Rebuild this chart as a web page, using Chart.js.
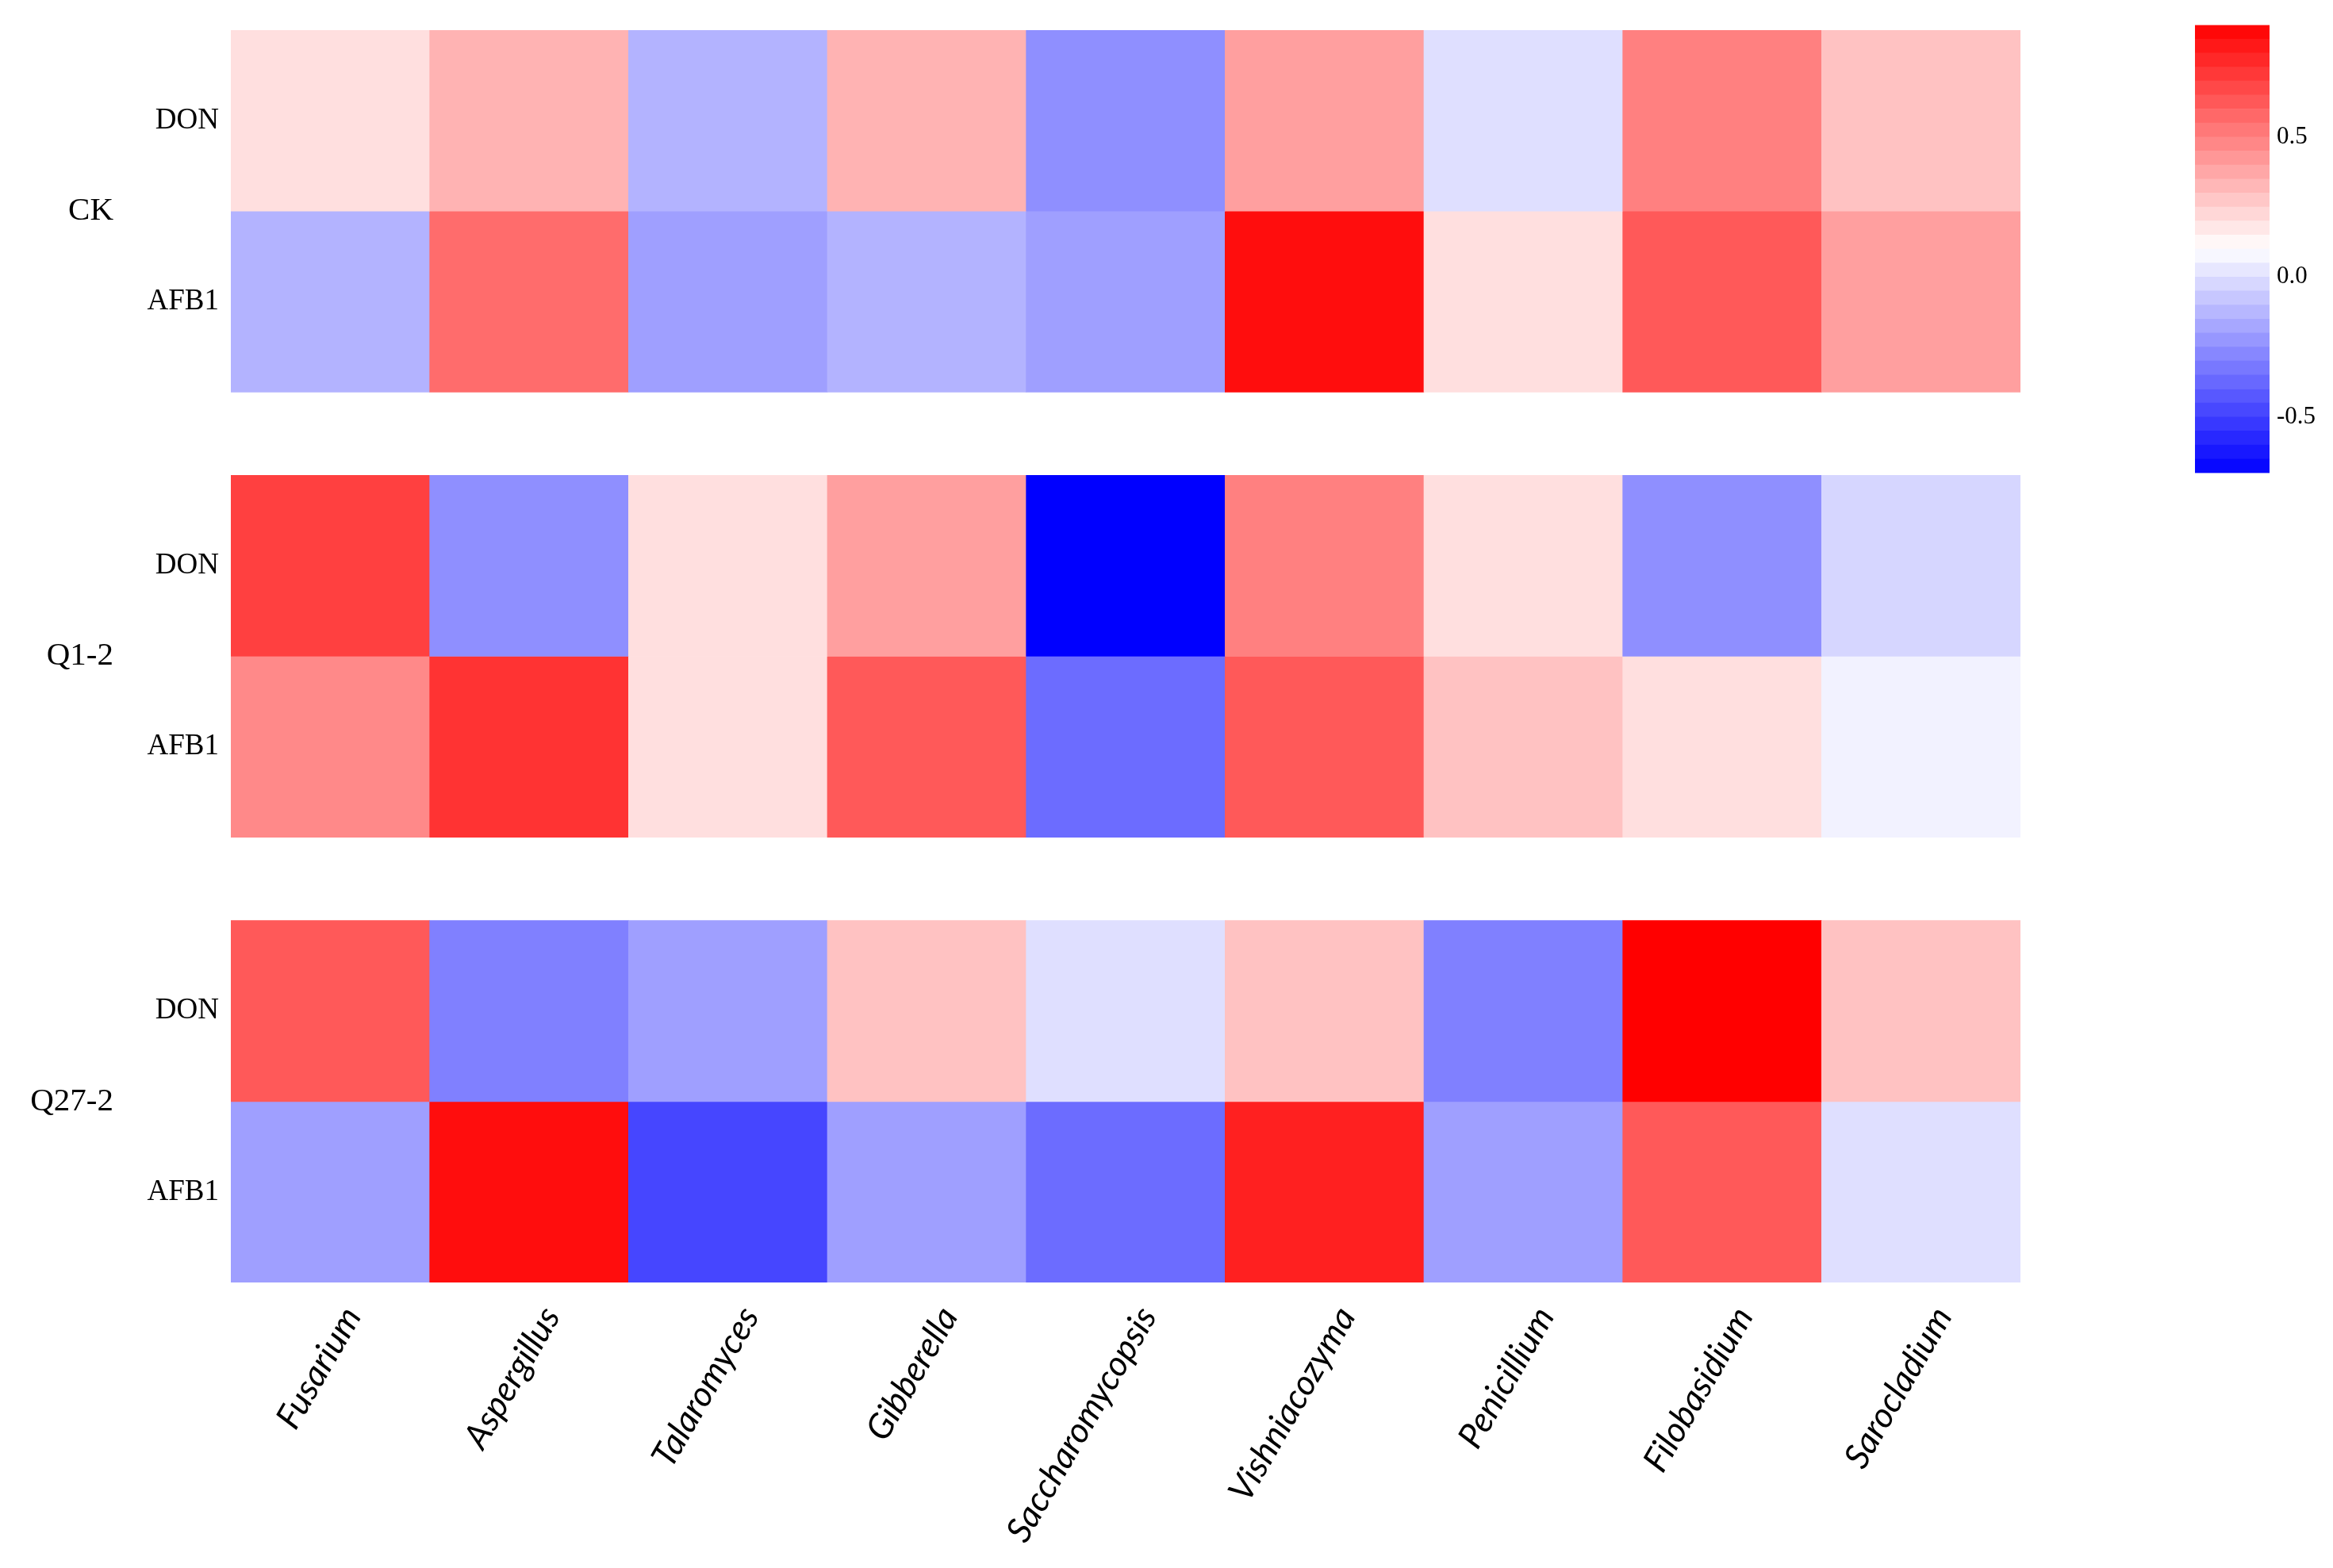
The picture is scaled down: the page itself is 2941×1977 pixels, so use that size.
<!DOCTYPE html>
<html>
<head>
<meta charset="utf-8">
<script src="https://cdn.jsdelivr.net/npm/chart.js@4.4.1/dist/chart.umd.min.js"></script>
<style>
  html, body { margin: 0; padding: 0; background: #fff; }
  #wrap { position: relative; width: 2941px; height: 1977px; }
  #heat { position: absolute; left: 0; top: 0; width: 2941px; height: 1977px; }
  /* box is taller than the key itself: the scale keeps a margin above and below */
  #legend { position: absolute; left: 2767px; top: 4px; width: 174px; height: 620px; }
</style>
</head>
<body>
<div id="wrap">
  <div id="heat"><canvas id="heatCanvas"></canvas></div>
  <div id="legend"><canvas id="legendCanvas"></canvas></div>
</div>
<script>
const genera = ["Fusarium", "Aspergillus", "Talaromyces", "Gibberella", "Saccharomycopsis", "Vishniacozyma", "Penicillium", "Filobasidium", "Sarocladium"];
const groups = ["CK", "Q1-2", "Q27-2"];
const toxins = ["DON", "AFB1"];

// correlation values, one array per group/toxin row
const ckDON    = [0.20, 0.34, -0.14, 0.34, -0.25, 0.40, 0.00, 0.50, 0.29];
const ckAFB1   = [-0.14, 0.56, -0.20, -0.14, -0.20, 0.86, 0.20, 0.62, 0.40];
const q12DON   = [0.70, -0.25, 0.20, 0.40, -0.70, 0.50, 0.20, -0.25, -0.03];
const q12AFB1  = [0.47, 0.74, 0.20, 0.62, -0.36, 0.62, 0.29, 0.20, 0.06];
const q272DON  = [0.62, -0.30, -0.20, 0.29, 0.00, 0.29, -0.30, 0.90, 0.29];
const q272AFB1 = [-0.20, 0.86, -0.48, -0.20, -0.36, 0.80, -0.20, 0.62, 0.00];

const rows = [[ckDON, ckAFB1], [q12DON, q12AFB1], [q272DON, q272AFB1]];

const colorRange = [-0.7, 0.9];
const legendTicks = [-0.5, 0.0, 0.5];
const legendSteps = 32;

const GAP = 0.46; // white space between groups, in row units

function colorFor(v) {
  const [lo, hi] = colorRange;
  const mid = (lo + hi) / 2;
  let s, c;
  if (v >= mid) {
    s = Math.min(1, (v - mid) / (hi - mid));
    c = Math.round(255 * (1 - s));
    return `rgb(255,${c},${c})`;
  }
  s = Math.min(1, (mid - v) / (mid - lo));
  c = Math.round(255 * (1 - s));
  return `rgb(${c},${c},255)`;
}

const rowStart = (g, t) => g * (2 + GAP) + t;
const rowCenters = [], rowLabels = [], groupCenters = [];
groups.forEach((g, gi) => {
  toxins.forEach((t, ti) => {
    rowCenters.push(rowStart(gi, ti) + 0.5);
    rowLabels.push(t);
  });
  groupCenters.push(rowStart(gi, 1));
});
const yMax = groups.length * 2 + (groups.length - 1) * GAP;

const datasets = [];
rows.forEach((pair, gi) => {
  pair.forEach((vals, ti) => {
    const lo = rowStart(gi, ti);
    datasets.push({
      label: groups[gi] + " " + toxins[ti],
      data: vals.map(() => [lo, lo + 1]),
      backgroundColor: vals.map(colorFor),
      borderWidth: 0,
      barPercentage: 1,
      categoryPercentage: 1,
      grouped: false,
      yAxisID: "y",
    });
  });
});

const serif = "'Liberation Serif', 'DejaVu Serif', serif";

new Chart(document.getElementById("heatCanvas"), {
  type: "bar",
  data: { labels: genera, datasets },
  options: {
    responsive: true,
    maintainAspectRatio: false,
    animation: false,
    layout: { padding: { top: 38, right: 394, left: 0, bottom: 0 } },
    plugins: { legend: { display: false }, tooltip: { enabled: false } },
    scales: {
      x: {
        grid: { display: false, drawTicks: false },
        border: { display: false },
        afterFit: (s) => { s.height = 360; },
        ticks: {
          color: "#000",
          autoSkip: false,
          minRotation: 60,
          maxRotation: 60,
          padding: 22,
          labelOffset: 28,
          font: { family: "Lato, 'Liberation Sans', sans-serif", size: 44, style: "italic" },
        },
      },
      y: {
        type: "linear",
        reverse: true,
        min: 0,
        max: yMax,
        weight: 0,
        grid: { display: false, drawTicks: false },
        border: { display: false },
        afterFit: (s) => { s.width = 141; },
        afterBuildTicks: (s) => { s.ticks = rowCenters.map(v => ({ value: v })); },
        ticks: {
          color: "#000",
          padding: 15,
          font: { family: serif, size: 37 },
          callback: (v, i) => rowLabels[i],
        },
      },
      y2: {
        type: "linear",
        position: "left",
        reverse: true,
        min: 0,
        max: yMax,
        weight: 1,
        grid: { display: false, drawTicks: false },
        border: { display: false },
        afterFit: (s) => { s.width = 150; },
        afterBuildTicks: (s) => { s.ticks = groupCenters.map(v => ({ value: v })); },
        ticks: {
          color: "#000",
          padding: 7,
          font: { family: serif, size: 41 },
          callback: (v, i) => groups[i],
        },
      },
    },
  },
});

// colour key: one band per step
const step = (colorRange[1] - colorRange[0]) / legendSteps;
const bandSets = [];
for (let k = 0; k < legendSteps; k++) {
  const lo = colorRange[0] + k * step;
  bandSets.push({
    data: [[lo, lo + step]],
    backgroundColor: colorFor(lo + step / 2),
    borderWidth: 0,
    barPercentage: 1,
    categoryPercentage: 1,
    grouped: false,
  });
}

new Chart(document.getElementById("legendCanvas"), {
  type: "bar",
  data: { labels: [""], datasets: bandSets },
  options: {
    responsive: true,
    maintainAspectRatio: false,
    animation: false,
    layout: { padding: 0, autoPadding: false },
    plugins: { legend: { display: false }, tooltip: { enabled: false } },
    scales: {
      x: { display: false },
      y: {
        position: "right",
        min: colorRange[0],
        max: colorRange[1],
        grid: { display: false, drawTicks: false },
        border: { display: false },
        afterFit: (s) => { s.width = 80; },
        afterBuildTicks: (s) => { s.ticks = legendTicks.map(v => ({ value: v })); },
        ticks: {
          color: "#000",
          padding: 9,
          font: { family: serif, size: 31 },
          callback: (v) => v.toFixed(1),
        },
      },
    },
  },
});
</script>
</body>
</html>
